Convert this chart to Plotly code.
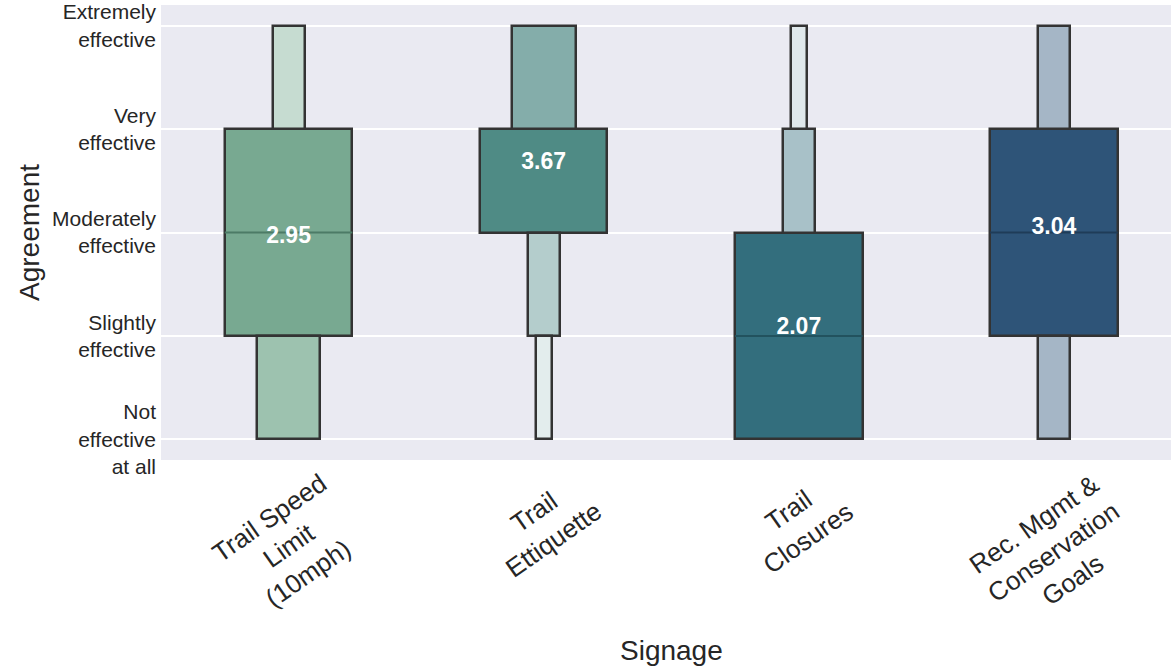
import plotly.graph_objects as go

# ---------------- data ----------------
categories = ["Trail Speed<br>Limit<br>(10mph)", "Trail<br>Ettiquette", "Trail<br>Closures",
              "Rec. Mgmt &<br>Conservation<br>Goals"]
means = [2.95, 3.67, 2.07, 3.04]
medians = [3, 4, 2, 3]
# letter values per level (level 1 = IQR box, then successive letter values)
lv_low = [[2, 1, 1], [3, 3, 2, 1], [1, 1, 1, 1], [2, 2, 1]]
lv_high = [[4, 4, 5], [4, 5, 5, 5], [3, 3, 4, 5], [4, 4, 5]]
y_ticks = [1, 2, 3, 4, 5]
y_labels = ["Not<br>effective<br>at all", "Slightly<br>effective", "Moderately<br>effective",
            "Very<br>effective", "Extremely<br>effective"]

# ---------------- style ----------------
level_colors = [
    ["#78a991", "#9dc2af", "#c6dcd1"],
    ["#4f8b85", "#84adaa", "#b4cdcc", "#e3eded"],
    ["#336e7d", "#6e97a2", "#a8c1c8", "#dfe8eb"],
    ["#2e5478", "#6a85a0", "#a5b6c6"],
]
median_colors = ["#4c7b66", "#356560", "#22525e", "#1f3c58"]
edge = "#333333"
FONT = "Liberation Sans, Arial, sans-serif"

fig = go.Figure()

for i, cat in enumerate(categories):
    xs, bases, heights, widths, cols = [], [], [], [], []
    lo, hi = lv_low[i], lv_high[i]
    for k in range(len(lo)):
        w = 0.5 / (2 ** k)
        c = level_colors[i][k]
        if k == 0:
            parts = [(lo[0], hi[0])]
        else:
            parts = [(lo[k], lo[k - 1]), (hi[k - 1], hi[k])]
        for a, b in parts:
            if b > a:
                xs.append(i)
                bases.append(a)
                heights.append(b - a)
                widths.append(w)
                cols.append(c)
    fig.add_trace(go.Bar(
        x=xs, base=bases, y=heights, width=widths,
        marker=dict(color=cols, line=dict(color=edge, width=2.5)),
        showlegend=False, hoverinfo="skip",
    ))
    m = medians[i]
    if lo[0] < m < hi[0]:
        fig.add_trace(go.Scatter(
            x=[i - 0.25, i + 0.25], y=[m, m], mode="lines",
            line=dict(color=median_colors[i], width=2), showlegend=False, hoverinfo="skip",
        ))

fig.add_trace(go.Scatter(
    x=list(range(len(categories))), y=means, mode="text",
    text=[f"<b>{v:.2f}</b>" for v in means],
    textfont=dict(color="white", size=23, family=FONT),
    textposition="middle center", showlegend=False, hoverinfo="skip",
))

# rotated category labels
for i, cat in enumerate(categories):
    fig.add_annotation(
        x=i, y=-0.012, xref="x", yref="paper", text=cat, showarrow=False,
        textangle=-35, xanchor="center", yanchor="top", align="center",
        font=dict(size=26, color="#262626", family=FONT),
    )

fig.add_annotation(
    x=1.5, y=-0.418, xref="x", yref="paper", text="Signage", showarrow=False,
    xanchor="center", yanchor="middle", font=dict(size=28, color="#262626", family=FONT),
)

fig.update_layout(
    width=1171, height=666,
    margin=dict(l=161, r=0, t=5, b=206, autoexpand=False),
    paper_bgcolor="white", plot_bgcolor="#eaeaf2",
    barmode="overlay", bargap=0,
    font=dict(family=FONT, color="#262626"),
    xaxis=dict(range=[-0.5, 3.459], showticklabels=False, showgrid=False,
               zeroline=False, ticks="", automargin=False),
    yaxis=dict(range=[0.8, 5.2], tickvals=y_ticks, ticktext=y_labels,
               tickfont=dict(size=21, color="#262626"), showgrid=True,
               gridcolor="white", gridwidth=1.5, zeroline=False, ticks="",
               ticklabelstandoff=4, automargin=False,
               title=dict(text="Agreement", font=dict(size=28, color="#262626"), standoff=4)),
)

fig.write_html("out.html", config={"displayModeBar": False},
               post_script="document.body.style.margin='0';")
